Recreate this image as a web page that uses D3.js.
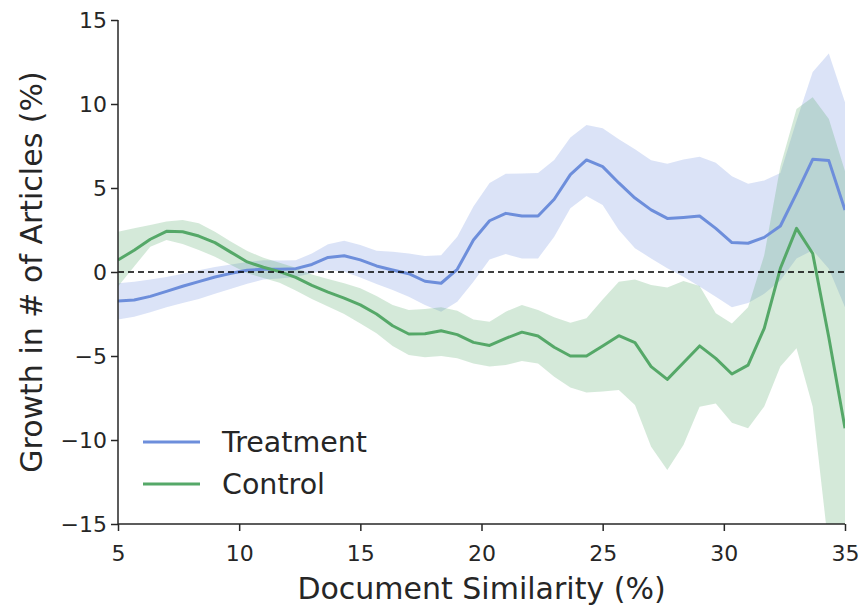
<!DOCTYPE html>
<html><head><meta charset="utf-8">
<script src="https://cdn.jsdelivr.net/npm/d3@7"></script>
<style>
html,body{margin:0;padding:0;background:#fff;}
text{font-family:"DejaVu Sans",sans-serif;fill:#262626;}
</style></head>
<body>
<svg id="chart" width="860" height="605"></svg>
<script>
// x positions (Document Similarity, %)
const xValues = [5,5.667,6.333,7,7.667,8.333,9,9.667,10.333,11,11.667,12.333,13,13.667,14.333,15,15.667,16.333,17,17.667,18.333,19,19.667,20.333,21,21.667,22.333,23,23.667,24.333,25,25.667,26.333,27,27.667,28.333,29,29.667,30.333,31,31.667,32.333,33,33.667,34.333,35];

const treatmentMean = [-1.72,-1.67,-1.45,-1.15,-0.85,-0.57,-0.3,-0.08,0.1,0.17,0.17,0.2,0.45,0.87,0.97,0.72,0.36,0.12,-0.1,-0.55,-0.67,0.16,1.9,3.05,3.49,3.33,3.33,4.33,5.8,6.67,6.27,5.3,4.4,3.7,3.19,3.25,3.33,2.6,1.75,1.71,2.06,2.74,4.68,6.71,6.63,3.69];
const treatmentUpper = [-0.67,-0.58,-0.45,-0.3,-0.1,0.1,0.3,0.45,0.6,0.7,0.68,0.7,1.1,1.65,1.86,1.6,1.27,1.2,1.1,0.95,1.0,2.1,3.9,5.3,5.85,5.87,5.9,6.67,8.0,8.75,8.55,7.9,7.3,6.65,6.45,6.7,6.86,6.5,5.7,5.25,5.45,5.9,9.0,11.9,13.0,10.1];
const treatmentLower = [-2.82,-2.66,-2.4,-2.1,-1.85,-1.6,-1.3,-1.0,-0.7,-0.45,-0.38,-0.3,-0.08,0.12,0.02,-0.32,-0.71,-1.07,-1.47,-1.96,-2.36,-1.77,-0.58,0.75,1.07,0.81,0.81,2.1,3.79,4.52,3.99,2.5,1.41,0.81,0.22,-0.28,-0.87,-1.47,-2.1,-1.85,-1.3,-0.5,0.8,1.3,0.2,-2.1];

const controlMean = [0.71,1.3,1.95,2.42,2.4,2.14,1.75,1.17,0.6,0.28,0.02,-0.32,-0.8,-1.2,-1.55,-1.96,-2.5,-3.2,-3.69,-3.67,-3.5,-3.73,-4.19,-4.37,-3.95,-3.58,-3.81,-4.48,-5.0,-5.0,-4.4,-3.79,-4.2,-5.63,-6.39,-5.4,-4.4,-5.14,-6.07,-5.54,-3.35,0.22,2.6,1.1,-3.9,-9.3];
const controlUpper = [2.4,2.6,2.8,3.0,3.1,2.9,2.4,1.8,1.25,0.85,0.55,0.25,-0.15,-0.42,-0.67,-0.97,-1.43,-1.96,-2.26,-2.2,-2.1,-2.3,-2.82,-2.96,-2.36,-1.96,-2.26,-2.7,-3.02,-2.76,-1.63,-0.58,-0.44,-0.77,-0.93,-0.54,-0.83,-2.46,-3.06,-2.1,1.0,6.3,9.7,10.4,9.1,6.0];
const controlLower = [-0.87,0.32,1.51,1.9,1.67,1.31,0.91,0.42,-0.08,-0.35,-0.64,-1.1,-1.6,-2.05,-2.5,-3.06,-3.65,-4.4,-4.94,-5.08,-5.0,-5.14,-5.44,-5.63,-5.54,-5.3,-5.44,-6.23,-6.87,-7.18,-7.12,-7.02,-7.92,-10.4,-11.79,-10.3,-8.02,-7.82,-8.97,-9.3,-8.0,-5.63,-4.54,-8.0,-16.5,-20];

const xTicks = [5,10,15,20,25,30,35];
const yTicks = [-15,-10,-5,0,5,10,15];
const seriesNames = ["Treatment","Control"];
const xTitle = "Document Similarity (%)";
const yTitle = "Growth in # of Articles (%)";

const colors = {Treatment:{line:"#6d8edb", fill:"#4c72d6", op:0.2}, Control:{line:"#55a868", fill:"#55a868", op:0.25}};

const svg = d3.select("#chart");
const m = {left:118, right:845, top:20, bottom:524};
const x = d3.scaleLinear().domain([5,35]).range([m.left, m.right]);
const y = d3.scaleLinear().domain([-15,15]).range([m.bottom, m.top]);

svg.append("defs").append("clipPath").attr("id","clip")
  .append("rect").attr("x",m.left).attr("y",m.top).attr("width",m.right-m.left).attr("height",m.bottom-m.top);

const plot = svg.append("g").attr("clip-path","url(#clip)");

const series = [
  {name:"Treatment", mean:treatmentMean, lo:treatmentLower, hi:treatmentUpper},
  {name:"Control", mean:controlMean, lo:controlLower, hi:controlUpper}
];

const area = (s) => d3.area().x((d,i)=>x(xValues[i])).y0((d,i)=>y(s.lo[i])).y1((d,i)=>y(s.hi[i]));
const line = (arr) => d3.line().x((d,i)=>x(xValues[i])).y(d=>y(d))(arr);

series.forEach(s=>{
  plot.append("path").attr("d", area(s)(xValues))
    .attr("fill", colors[s.name].fill).attr("fill-opacity", colors[s.name].op).attr("stroke","none");
});
series.forEach(s=>{
  plot.append("path").attr("d", line(s.mean))
    .attr("fill","none").attr("stroke", colors[s.name].line).attr("stroke-width",3)
    .attr("stroke-linejoin","round");
});

// zero line
plot.append("line").attr("x1",m.left).attr("x2",m.right).attr("y1",y(0)).attr("y2",y(0))
  .attr("stroke","#000").attr("stroke-width",1.6).attr("stroke-dasharray","6,4");

// axes
const xAxis = d3.axisBottom(x).tickValues(xTicks).tickSize(7).tickPadding(14).tickFormat(d3.format("d"));
const yAxis = d3.axisLeft(y).tickValues(yTicks).tickSize(7).tickPadding(4)
  .tickFormat(d => d < 0 ? "\u2212" + Math.abs(d) : String(d));

const gx = svg.append("g").attr("transform",`translate(0,${m.bottom})`).call(xAxis);
const gy = svg.append("g").attr("transform",`translate(${m.left},0)`).call(yAxis);
[gx,gy].forEach(g=>{
  g.attr("font-size",null).attr("font-family",null);
  g.select(".domain").attr("stroke","#262626").attr("stroke-width",1.5);
  g.selectAll(".tick line").attr("stroke","#262626").attr("stroke-width",1.5);
  g.selectAll(".tick text").style("font-size","22px").style("fill","#262626").style("font-family","'DejaVu Sans'");
});
gx.select(".domain").attr("d",`M${m.left},0H${m.right}`);
gy.select(".domain").attr("d",`M0,${m.top}V${m.bottom}`);

svg.append("text").attr("x",(m.left+m.right)/2).attr("y",599).attr("text-anchor","middle")
  .style("font-size","30px").text(xTitle);
svg.append("text").attr("transform",`translate(42,${(m.top+m.bottom)/2}) rotate(-90)`)
  .attr("text-anchor","middle").style("font-size","30px").text(yTitle);

// legend
const leg = svg.append("g");
seriesNames.forEach((n,i)=>{
  const ly = 442 + i*42;
  leg.append("line").attr("x1",143).attr("x2",200).attr("y1",ly).attr("y2",ly)
    .attr("stroke",colors[n].line).attr("stroke-width",3);
  leg.append("text").attr("x",222).attr("y",ly).attr("dy","0.35em").style("font-size","28.5px").text(n);
});
</script>
</body></html>
